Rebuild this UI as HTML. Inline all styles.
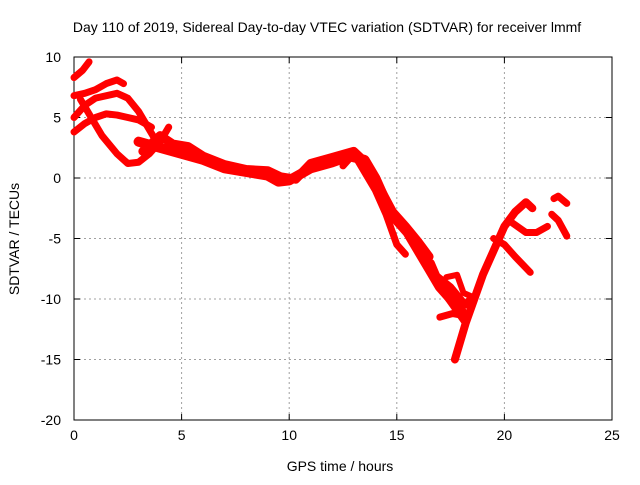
<!DOCTYPE html>
<html><head><meta charset="utf-8"><style>
body{margin:0;background:#fff}
text{font-family:"Liberation Sans",sans-serif;font-size:14px;fill:#000}
</style></head><body>
<svg id="c" width="640" height="480">
<rect width="640" height="480" fill="#fff"/>
<text x="327" y="32" text-anchor="middle">Day 110 of 2019, Sidereal Day-to-day VTEC variation (SDTVAR) for receiver lmmf</text>
<g id="grid"></g>
<g id="axes"></g>
<g id="marks"></g>
<text x="340" y="471" text-anchor="middle">GPS time / hours</text>
<text transform="translate(19,239) rotate(-90)" text-anchor="middle">SDTVAR / TECUs</text>
</svg>
<script>
const xTicks=[0,5,10,15,20,25];
const yTicks=[10,5,0,-5,-10,-15,-20];
const trackA=[[0,8.3],[0.4,8.9],[0.7,9.6]];
const trackB=[[0,6.8],[0.5,7],[1,7.3],[1.5,7.8],[2,8.1],[2.3,7.8]];
const trackC=[[0,5],[0.5,6],[1,6.6],[2,7],[2.5,6.6],[3,5.5],[3.5,4],[4,2.5]];
const trackD=[[0,3.8],[0.5,4.5],[1,5],[1.5,5.3],[2,5.2],[2.5,5],[3,4.8],[3.6,4.2]];
const trackE=[[0.3,6.5],[0.8,5],[1.3,3.5],[2,2],[2.5,1.2],[3,1.3],[3.5,2],[4,3],[4.4,4.2]];
const trackMain=[[3,3],[4,2.5],[5,2],[6,1.5],[7,0.8],[8,0.5],[9,0.2],[9.5,-0.3],[10,-0.2],[10.5,0.3],[11,0.8],[12,1.3],[12.8,1.8],[13.5,1.5],[14,0],[14.5,-2],[15,-3.5],[15.5,-4.5],[16,-6],[16.5,-7.5],[17,-9],[17.5,-10],[18,-11]];
const trackMain2=[[3.2,2.2],[4,3.5],[4.6,2.8],[5.3,2.6],[6,1.8],[7,1.1],[8,0.7],[9,0.6],[9.6,0.1],[10.3,-0.1],[11,1.2],[12,1.7],[13,2.2],[13.6,1.2],[14.2,-0.8],[14.8,-2.8],[15.4,-4],[16,-5.3],[16.5,-6.5]];
const trackF=[[12.5,1],[13,2],[14,-1],[14.5,-3],[15,-5.5],[15.4,-6.3]];
const trackG=[[17.7,-15],[18.2,-12],[18.6,-10],[19,-8],[19.5,-6],[20,-4],[20.5,-2.8],[21,-2],[21.3,-2.5]];
const trackH=[[19.5,-5],[20,-5.5],[20.5,-6.5],[21.2,-7.8]];
const trackI=[[20.2,-3.5],[21,-4.5],[21.5,-4.5],[22,-4]];
const trackJ=[[22.2,-3],[22.5,-3.5],[22.9,-4.8]];
const trackK=[[22.3,-1.7],[22.5,-1.5],[22.9,-2.1]];
const trackL=[[16.8,-8],[17.5,-9],[18.2,-10.5],[18.4,-10]];
const trackM=[[17,-11.5],[17.6,-11.2],[18.2,-11.4]];
const trackN=[[16.6,-7],[17.2,-9.5],[17.8,-11],[18.2,-12]];
const trackO=[[17.3,-8.2],[17.8,-8],[18.1,-9.5],[18.5,-9.8]];
const tracks=[trackA,trackB,trackC,trackD,trackE,trackMain,trackMain2,trackF,trackG,trackH,trackI,trackJ,trackK,trackL,trackM,trackN,trackO];
const widths=[7,7,7,7,7,10,9,7,8,7,7,7,7,7,7,7,6];
const X0=74,X1=612,Y0=57,Y1=420;
const xs=h=>X0+(h/25)*(X1-X0);
const ys=v=>Y0+(10-v)/30*(Y1-Y0);
const NS="http://www.w3.org/2000/svg";
const grid=document.getElementById('grid'),axes=document.getElementById('axes'),marks=document.getElementById('marks');
function mk(t,a,p){const e=document.createElementNS(NS,t);for(const k in a)e.setAttribute(k,a[k]);p.appendChild(e);return e;}
xTicks.forEach(t=>{const x=xs(t);
 if(t>0&&t<25){const g=mk('line',{x1:x,x2:x,y1:Y0,y2:Y1,stroke:'#a0a0a0','stroke-dasharray':'2,3'},grid);
 
 }
 const l=mk('text',{x:x,y:Y1+20,'text-anchor':'middle'},axes);l.textContent=t;
 
 
 mk('line',{x1:x,x2:x,y1:Y1,y2:Y1-6,stroke:'#000'},axes);mk('line',{x1:x,x2:x,y1:Y0,y2:Y0+6,stroke:'#000'},axes);});
yTicks.forEach(t=>{const y=ys(t);
 if(t<10&&t>-20){const g=mk('line',{x1:X0,x2:X1,y1:y,y2:y,stroke:'#a0a0a0','stroke-dasharray':'2,3'},grid);
 
 }
 const l=mk('text',{x:X0-13,y:y+5,'text-anchor':'end'},axes);l.textContent=t;
 
 
 mk('line',{x1:X0,x2:X0+6,y1:y,y2:y,stroke:'#000'},axes);mk('line',{x1:X1,x2:X1-6,y1:y,y2:y,stroke:'#000'},axes);});
mk('rect',{x:X0,y:Y0,width:X1-X0,height:Y1-Y0,fill:'none',stroke:'#000'},axes);
tracks.forEach((tr,i)=>{const p=mk('polyline',{points:tr.map(d=>xs(d[0])+','+ys(d[1])).join(' '),fill:'none',stroke:'#f00','stroke-width':widths[i],'stroke-linejoin':'round','stroke-linecap':'round'},marks);
 
 });
</script>
</body></html>
